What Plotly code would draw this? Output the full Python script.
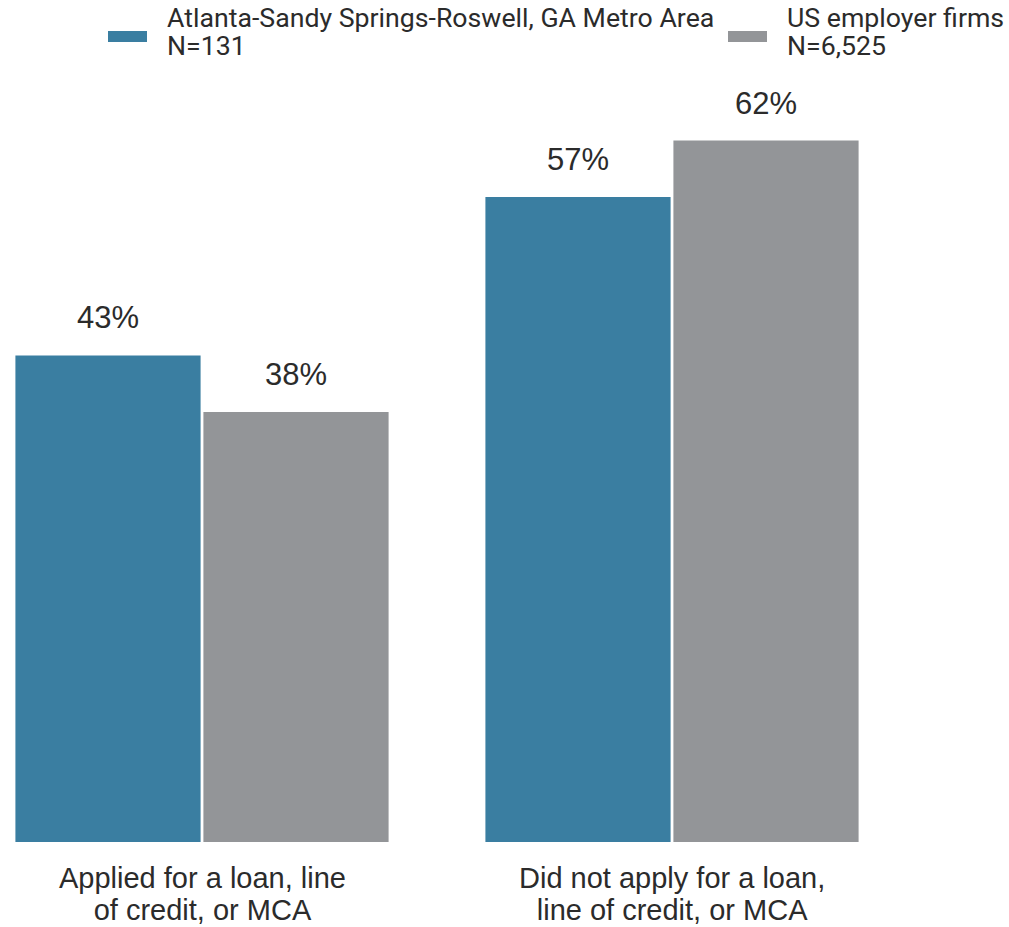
import plotly.graph_objects as go

categories = ["Applied for a loan, line<br>of credit, or MCA",
              "Did not apply for a loan,<br>line of credit, or MCA"]
series_names = ["Atlanta-Sandy Springs-Roswell, GA Metro Area", "US employer firms"]
series_n = ["N=131", "N=6,525"]
atlanta = [43, 57]
us = [38, 62]
colors = ["#3a7ea1", "#939598"]

TEXT = "#2b2b2b"
PLOT_TOP, PLOT_BOTTOM = 50, 842
PH = PLOT_BOTTOM - PLOT_TOP


def py(pix):
    return (PLOT_BOTTOM - pix) / PH


def px(pix):
    return (pix - 14) / 846


def tight(lines, size, spacing):
    # base font sets line spacing (1.3 x base); spans set the visible size
    return "<br>".join(f"<span style='font-size:{size}px'>{l}</span>" for l in lines), spacing / 1.3


fig = go.Figure()
for name, vals, col in zip(series_names, [atlanta, us], colors):
    fig.add_trace(go.Bar(x=categories, y=vals, name=name, marker_color=col,
                         marker_line_width=0, showlegend=False, hoverinfo="skip"))

# value labels above the bars
offsets = [-0.2, 0.2]
for off, vals in zip(offsets, [atlanta, us]):
    for i, v in enumerate(vals):
        fig.add_annotation(x=i + off, y=v, xref="x", yref="y", text=f"{v}%",
                           showarrow=False, yanchor="bottom", yshift=18,
                           font=dict(family="Liberation Sans, Arial", size=31, color=TEXT))

# category labels (two lines each)
for i, cat in enumerate(categories):
    txt, base = tight(cat.split("<br>"), 29, 32)
    fig.add_annotation(x=i, y=py(894), xref="x", yref="paper", text=txt,
                       showarrow=False, xanchor="center", yanchor="middle", align="center",
                       font=dict(family="Liberation Sans, Arial", size=base, color=TEXT))

# custom legend (wide swatches, two-line labels)
leg_x = [108, 728]
for lx, col, name, n in zip(leg_x, colors, series_names, series_n):
    fig.add_shape(type="rect", xref="paper", yref="paper", x0=px(lx), x1=px(lx + 39),
                  y0=py(42), y1=py(31), fillcolor=col, line_width=0)
    txt, base = tight([name, n], 26.7, 28)
    fig.add_annotation(x=px(lx + 57), y=py(32), xref="paper", yref="paper", text=txt,
                       showarrow=False, xanchor="left", yanchor="middle", align="left",
                       font=dict(family="Roboto", size=base, color=TEXT))

fig.update_layout(
    width=1009, height=927,
    margin=dict(l=14, r=149, t=PLOT_TOP, b=927 - PLOT_BOTTOM),
    barmode="group", bargap=0.2, bargroupgap=0.015,
    plot_bgcolor="white", paper_bgcolor="white",
    xaxis=dict(range=[-0.4, 1.4], showgrid=False, showline=False, zeroline=False,
               showticklabels=False, automargin=False),
    yaxis=dict(range=[0, 70], visible=False, showgrid=False, zeroline=False,
               automargin=False),
)

fig.write_html("out.html", config={"displayModeBar": False},
               post_script="document.body.style.margin='0';")
